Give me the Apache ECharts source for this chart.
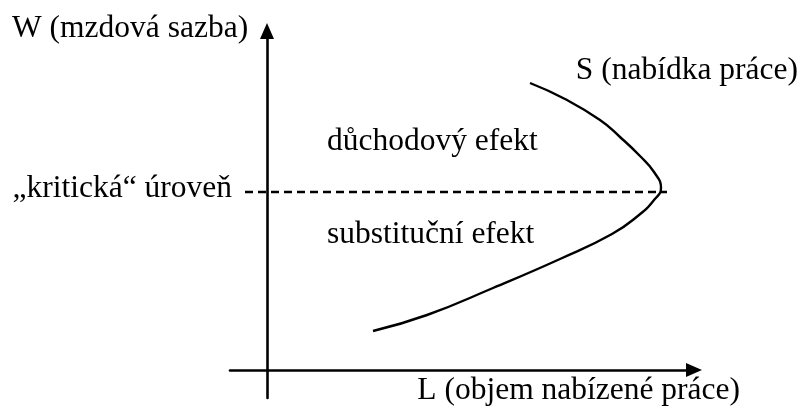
<!DOCTYPE html>
<html>
<head>
<meta charset="utf-8">
<script src="https://cdn.jsdelivr.net/npm/echarts@6/dist/echarts.min.js"></script>
<style>
  html, body { margin: 0; padding: 0; background: #fff; }
  #chart { width: 802px; height: 410px; }
</style>
</head>
<body>
<div id="chart"></div>
<script>
// osy: rozsah v "pojmovych" jednotkach (pocatek = 0)
const lRange = [-37, 427];
const wRange = [-28, 339];

// krivka nabidky prace S (L, W), zdola nahoru
const supplyL = [106, 160, 226, 293, 345, 372, 387, 394, 387, 373, 353, 333, 298, 263];
const supplyW = [39, 55, 82, 111, 136, 155, 170, 182, 198, 214, 233, 250, 271, 287];

// "kriticka" uroven mzdy
const criticalW = 178;
const criticalL = [-22, 400];

const font = '"Liberation Serif", "Times New Roman", serif';

let chart = echarts.init(document.getElementById('chart'));

// popisky grafu
function label(text, x, y, align) {
  return {
    type: 'text',
    x: x,
    y: y,
    style: {
      text: text,
      fill: '#000',
      font: '31.5px ' + font,
      align: align,
      verticalAlign: 'middle'
    }
  };
}

let option = {
  animation: false,
  backgroundColor: '#fff',
  grid: { left: 230, right: 108, top: 31, bottom: 12 },
  xAxis: {
    type: 'value',
    min: lRange[0],
    max: lRange[1],
    axisLine: {
      onZero: true,
      symbol: ['none', 'triangle'],
      symbolSize: [14, 16],
      lineStyle: { color: '#000', width: 2.6 }
    },
    axisTick: { show: false },
    axisLabel: { show: false },
    splitLine: { show: false }
  },
  yAxis: {
    type: 'value',
    min: wRange[0],
    max: wRange[1],
    axisLine: {
      onZero: true,
      symbol: ['none', 'triangle'],
      symbolSize: [14, 16],
      lineStyle: { color: '#000', width: 2.6 }
    },
    axisTick: { show: false },
    axisLabel: { show: false },
    splitLine: { show: false }
  },
  series: [
    {
      name: 'kritická úroveň',
      type: 'line',
      symbol: 'none',
      data: criticalL.map(l => [l, criticalW]),
      lineStyle: { color: '#000', width: 2.6, type: [8, 5] },
      z: 2
    },
    {
      name: 'S',
      type: 'line',
      symbol: 'none',
      smooth: 0.5,
      smoothConstraint: false,
      data: supplyL.map((l, i) => [l, supplyW[i]]),
      lineStyle: { color: '#000', width: 2.4 },
      z: 3
    }
  ],
  graphic: [
    label('W (mzdová sazba)', 12, 29, 'left'),
    label('S (nabídka práce)', 798, 71, 'right'),
    label('důchodový efekt', 327, 142, 'left'),
    label('\u201Ekritická\u201C úroveň', 232, 189, 'right'),
    label('substituční efekt', 327, 235, 'left'),
    label('L (objem nabízené práce)', 740, 391, 'right')
  ]
};
chart.setOption(option);
</script>
</body>
</html>
